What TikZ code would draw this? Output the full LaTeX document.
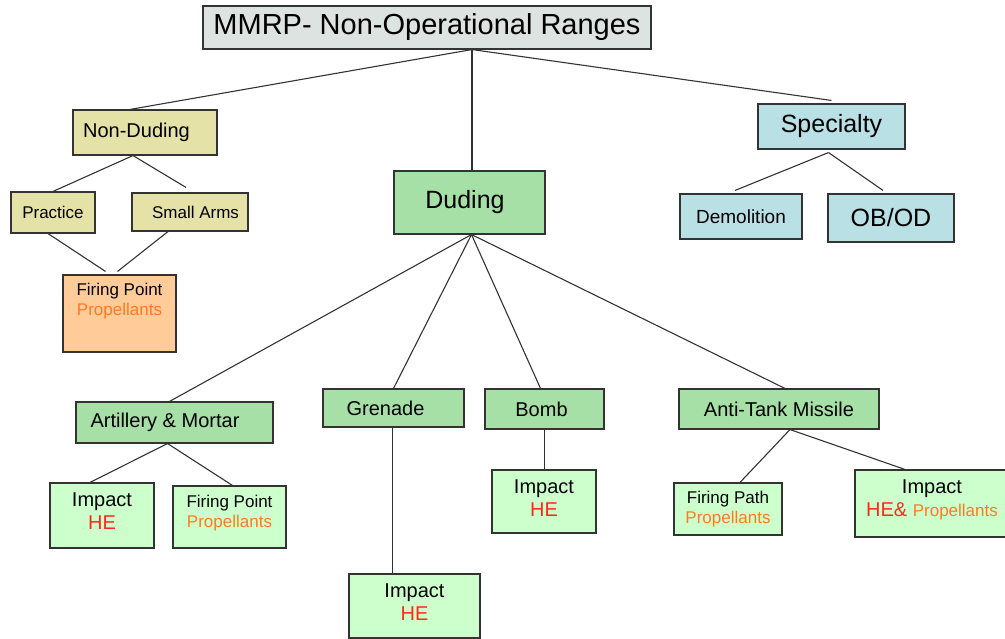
\documentclass[tikz,border=0pt]{standalone}
\usepackage{fontspec}
\setmainfont{Liberation Sans}
\definecolor{boxline}{HTML}{333333}
\definecolor{titlegray}{HTML}{DDE3E0}
\definecolor{khaki}{HTML}{E5E2A8}
\definecolor{peach}{HTML}{FFCC99}
\definecolor{midgreen}{HTML}{A6E0A6}
\definecolor{palegreen}{HTML}{CCFFCC}
\definecolor{paleblue}{HTML}{B9E0E5}
\definecolor{hered}{HTML}{FF2A1A}
\definecolor{proporange}{HTML}{FF7A22}
\newcommand{\pts}[2]{\fontsize{#1}{#2}\selectfont}
\newcommand{\lowpad}[1]{\rule[-#1]{0pt}{#1}}
\newcommand{\he}{\textcolor{hered}{HE}}
\newcommand{\prop}{\textcolor{proporange}{Propellants}}

\begin{document}
\begin{tikzpicture}[x=1pt,y=-1pt,
    box/.style={draw=boxline, line width=1.1pt, inner sep=0pt, align=center},
    topbox/.style={box, fill=titlegray, font=\pts{29}{34}},
    khakibox/.style={box, fill=khaki},
    peachbox/.style={box, fill=peach, font=\pts{17}{20.4}},
    dudbox/.style={box, fill=midgreen},
    leafbox/.style={box, fill=palegreen, font=\pts{20}{23}},
    specbox/.style={box, fill=paleblue},
    link/.style={draw=boxline, line width=1.1pt}]
    \useasboundingbox (0,0) rectangle (1005,639);

    % top and the three branches
    \node[topbox, minimum width=448pt, minimum height=43pt] (title) at (427,27.5) {MMRP- Non-Operational Ranges};
    \node[khakibox, minimum width=144pt, minimum height=45pt, font=\pts{20}{24}] (nond) at (145,132.5) {\hspace*{-17pt}Non-Duding};
    \node[dudbox, minimum width=151pt, minimum height=63pt, font=\pts{25}{30}] (dud) at (469.5,202.5) {\hspace*{-9pt}Duding};
    \node[specbox, minimum width=147pt, minimum height=45pt, font=\pts{25}{30}] (spec) at (831.5,126.5) {Specialty};

    % non-duding
    \node[khakibox, minimum width=84pt, minimum height=41pt, font=\pts{17}{20}] (prac) at (53,212.5) {Practice};
    \node[khakibox, minimum width=116pt, minimum height=38pt, font=\pts{17}{20}] (sarms) at (190,212) {\hspace*{11pt}Small Arms};
    \node[peachbox, minimum width=113pt, minimum height=77pt] (fp) at (119.5,313.5) {Firing Point\\\prop\lowpad{28pt}};

    % specialty
    \node[specbox, minimum width=122pt, minimum height=45pt, font=\pts{19}{23}] (demo) at (741,216.5) {Demolition};
    \node[specbox, minimum width=126pt, minimum height=48pt, font=\pts{25}{30}] (obod) at (891,218) {OB/OD};

    % duding
    \node[dudbox, minimum width=197pt, minimum height=41pt, font=\pts{20}{24}] (art) at (174.5,422.5) {\hspace*{-19pt}Artillery \& Mortar};
    \node[dudbox, minimum width=141pt, minimum height=38pt, font=\pts{20}{24}] (gren) at (393.5,408) {\hspace*{-16pt}Grenade};
    \node[dudbox, minimum width=119pt, minimum height=40pt, font=\pts{20}{24}] (bomb) at (544.5,409) {\hspace*{-6pt}Bomb};
    \node[dudbox, minimum width=200pt, minimum height=40pt, font=\pts{20}{24}] (atm) at (779,409) {Anti-Tank Missile};

    \node[leafbox, minimum width=104pt, minimum height=65pt] (imp1) at (102,515.5) {Impact\\\he\lowpad{8pt}};
    \node[leafbox, minimum width=113pt, minimum height=62pt, font=\pts{17}{20}] (fp2) at (229.5,517) {Firing Point\\\prop\lowpad{12pt}};
    \node[leafbox, minimum width=131pt, minimum height=64pt] (gimp) at (414.5,606) {Impact\\\he\lowpad{7pt}};
    \node[leafbox, minimum width=104pt, minimum height=63pt] (bimp) at (544,501.5) {Impact\\\he\lowpad{6pt}};
    \node[leafbox, minimum width=108pt, minimum height=52pt, font=\pts{17}{20}] (fpath) at (728,509) {Firing Path\\\prop};
    \node[leafbox, minimum width=154pt, minimum height=67pt] (himp) at (932,503.5) {Impact\\\textcolor{hered}{HE\&} {\pts{17}{20}\prop}\lowpad{10pt}};

    \coordinate (hub) at ([xshift=45pt]title.south);
    \draw[link] (hub) -- ([xshift=-15pt]nond.north);
    \draw[link] (hub) -- (hub |- dud.north);
    \draw[link] (hub) -- ([yshift=3pt]spec.north);

    \draw[link] ([xshift=-12pt]nond.south) -- (prac.north);
    \draw[link] ([xshift=-12pt]nond.south) -- ([xshift=-4pt,yshift=5pt]sarms.north);
    \draw[link] ([xshift=-5pt]prac.south) -- ([xshift=-14pt,yshift=3pt]fp.north);
    \draw[link] ([xshift=-22pt]sarms.south) -- ([xshift=-2pt,yshift=3pt]fp.north);

    \draw[link] ([yshift=-3pt,xshift=-3pt]spec.south) -- ([xshift=-6pt,yshift=3pt]demo.north);
    \draw[link] ([yshift=-3pt,xshift=-3pt]spec.south) -- ([xshift=-8pt,yshift=3pt]obod.north);

    \foreach \kid/\dx in {art/-5, gren/0, bomb/-4, atm/6}
        \draw[link] ([xshift=2pt]dud.south) -- ([xshift=\dx pt]\kid.north);

    \draw[link] ([xshift=-7pt]art.south) -- ([xshift=-12pt]imp1.north);
    \draw[link] ([xshift=-7pt]art.south) -- ([xshift=3pt]fp2.north);
    \draw[link] ([xshift=-1pt]gren.south) -- ([xshift=-1pt]gren.south |- gimp.north);
    \draw[link] (bomb.south) -- (bomb.south |- bimp.north);
    \draw[link] ([xshift=11pt]atm.south) -- ([xshift=12pt]fpath.north);
    \draw[link] ([xshift=11pt]atm.south) -- ([xshift=-27pt]himp.north);
\end{tikzpicture}
\end{document}
